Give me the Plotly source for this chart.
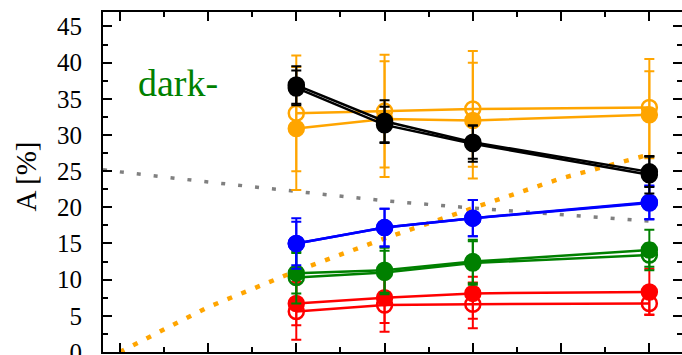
import plotly.graph_objects as go

# ---- data ----
x_vals = [2, 3, 4, 6]

black_a = [36.5, 31.4, 28.8, 24.5]
black_a_err = [2.4, 2.5, 2.5, 2.6]
black_b = [36.9, 31.9, 29.0, 24.9]
black_b_err = [2.6, 2.9, 2.3, 2.1]

orange_open = [33.0, 33.3, 33.6, 33.8]
orange_open_err = [8.0, 7.8, 8.0, 6.7]
orange_filled = [30.9, 32.2, 32.0, 32.8]
orange_filled_err = [8.5, 8.0, 8.0, 6.0]

blue_filled = [15.0, 17.2, 18.5, 20.7]
blue_filled_err = [3.5, 2.6, 2.5, 2.3]
blue_open = [15.0, 17.2, 18.5, 20.6]
blue_open_err = [3.0, 2.6, 2.5, 2.3]

green_filled = [10.9, 11.3, 12.5, 14.1]
green_filled_err = [2.8, 3.1, 3.0, 2.8]
green_open = [10.3, 11.0, 12.3, 13.4]
green_open_err = [3.6, 3.0, 3.0, 1.6]

red_filled = [6.7, 7.5, 8.1, 8.3]
red_filled_err_plus = [3.0, 3.5, 2.3, 3.2]
red_filled_err_minus = [3.0, 3.5, 3.5, 3.2]
red_open = [5.6, 6.5, 6.6, 6.7]
red_open_err_plus = [3.9, 3.7, 3.0, 1.5]
red_open_err_minus = [3.9, 3.7, 3.3, 1.5]

gray_x = [-0.19, 0, 1, 2, 3, 4, 5, 6]
gray_y = [25.2, 24.9, 23.5, 22.2, 20.9, 19.9, 18.95, 18.1]

orange_curve_x = [0, 1, 2, 3, 4, 5, 6]
orange_curve_y = [0.0, 6.2, 11.2, 15.7, 19.9, 24.0, 27.3]

y_ticks = [0, 5, 10, 15, 20, 25, 30, 35, 40, 45]
x_ticks = [0, 1, 2, 3, 4, 5, 6]

FONT = "Liberation Serif"

fig = go.Figure()

# dotted model curves
fig.add_trace(go.Scatter(x=gray_x, y=gray_y, mode="lines",
                         line=dict(color="#808080", width=3.5, dash="4px,13px"),
                         showlegend=False, hoverinfo="skip"))
fig.add_trace(go.Scatter(x=orange_curve_x, y=orange_curve_y, mode="lines",
                         line=dict(color="#FFA500", width=4.5, dash="5px,10px"),
                         showlegend=False, hoverinfo="skip"))


def add_series(y, ep, em, color, symbol):
    fig.add_trace(go.Scatter(
        x=x_vals, y=y, mode="lines+markers",
        line=dict(color=color, width=2.5),
        marker=dict(symbol=symbol, size=15, color=color,
                    line=dict(color=color, width=2.5)),
        error_y=dict(type="data", array=ep, arrayminus=em, symmetric=False,
                     color=color, thickness=2, width=5),
        showlegend=False,
    ))


add_series(red_open, red_open_err_plus, red_open_err_minus, "#FF0000", "circle-open")
add_series(red_filled, red_filled_err_plus, red_filled_err_minus, "#FF0000", "circle")
add_series(green_open, green_open_err, green_open_err, "#008000", "circle-open")
add_series(green_filled, green_filled_err, green_filled_err, "#008000", "circle")
add_series(blue_open, blue_open_err, blue_open_err, "#0000FF", "circle-open")
add_series(blue_filled, blue_filled_err, blue_filled_err, "#0000FF", "circle")
add_series(orange_open, orange_open_err, orange_open_err, "#FFA500", "circle-open")
add_series(orange_filled, orange_filled_err, orange_filled_err, "#FFA500", "circle")
add_series(black_a, black_a_err, black_a_err, "#000000", "circle")
add_series(black_b, black_b_err, black_b_err, "#000000", "circle")

# dummy trace to attach right-hand tick axis
fig.add_trace(go.Scatter(x=[None], y=[None], yaxis="y2", showlegend=False))

fig.update_layout(
    width=682, height=355,
    margin=dict(l=103, r=0, t=12, b=3, autoexpand=False),
    plot_bgcolor="white", paper_bgcolor="white",
    font=dict(family=FONT, size=25, color="black"),
    xaxis=dict(range=[-0.19, 6.37], tickvals=x_ticks, showticklabels=False,
               automargin=False,
               ticks="inside", ticklen=9, tickwidth=2, tickcolor="black",
               showline=True, linewidth=2, linecolor="black", mirror="ticks",
               showgrid=False, zeroline=False,
               minor=dict(dtick=0.5, tick0=0, ticks="inside", ticklen=5,
                          tickwidth=2, tickcolor="black", showgrid=False)),
    yaxis=dict(range=[0, 47], tickvals=y_ticks, ticks="inside", ticklen=9,
               automargin=False,
               tickwidth=2, tickcolor="black", showline=True, linewidth=2,
               linecolor="black", showgrid=False, zeroline=False,
               ticklabelstandoff=14, ticklabeloverflow="allow",
               tickfont=dict(family=FONT, size=25, color="black"),
               minor=dict(dtick=2.5, tick0=0, ticks="inside", ticklen=5,
                          tickwidth=2, tickcolor="black", showgrid=False)),
    yaxis2=dict(range=[0, 47], overlaying="y", side="right", tickvals=y_ticks,
                automargin=False,
                showticklabels=False, ticks="inside", ticklen=9, tickwidth=2,
                tickcolor="black", showline=False, showgrid=False, zeroline=False,
                minor=dict(dtick=2.5, tick0=0, ticks="inside", ticklen=5,
                           tickwidth=2, tickcolor="black", showgrid=False)),
    annotations=[
        dict(text="dark-", xref="paper", yref="paper", x=0.057, y=0.79,
             xanchor="left", yanchor="middle", showarrow=False,
             font=dict(family=FONT, size=38, color="#008000")),
        dict(text="A [%]", xref="paper", yref="paper", x=-0.133, y=0.516,
             xanchor="center", yanchor="middle", textangle=-90, showarrow=False,
             font=dict(family=FONT, size=29, color="black")),
    ],
)

fig.write_html("out.html")
